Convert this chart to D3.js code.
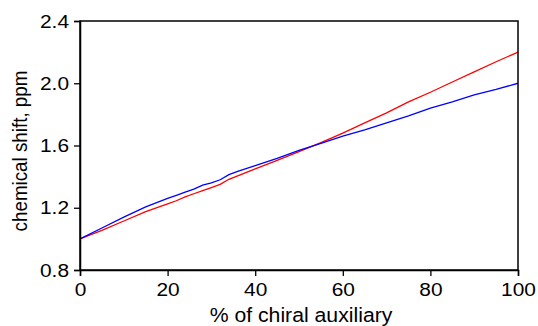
<!DOCTYPE html>
<html><head><meta charset="utf-8">
<script src="https://cdn.jsdelivr.net/npm/d3@7"></script>
<style>body{margin:0;background:#fff}svg{display:block}text{font-family:"Liberation Sans",Arial,sans-serif;fill:#000}</style>
</head><body><svg id="c" width="538" height="326"></svg>
<script>
const xValues = [0,5,10,15,20,22,24,26,28,30,32,34,36,40,45,50,55,60,65,70,75,80,85,90,95,100];
const blueValues = [1.0,1.07,1.14,1.205,1.26,1.28,1.30,1.32,1.345,1.36,1.38,1.413,1.433,1.47,1.517,1.568,1.614,1.66,1.70,1.745,1.79,1.84,1.88,1.925,1.96,2.0];
const redValues = [1.0,1.055,1.115,1.175,1.225,1.245,1.27,1.29,1.31,1.33,1.35,1.383,1.405,1.45,1.505,1.561,1.618,1.68,1.745,1.81,1.88,1.942,2.008,2.073,2.138,2.2];
const xTicks = [0,20,40,60,80,100];
const yTicks = [0.8,1.2,1.6,2.0,2.4];

const svg = d3.select("#c");
const L=80,R=518,T=21,B=270;
const SX=1.1;
const x = d3.scaleLinear().domain([0,100]).range([L,R]);
const y = d3.scaleLinear().domain([0.8,2.4]).range([B,T]);

const line = vals => d3.line().x((d,i)=>x(xValues[i])).y(d=>y(d))(vals);
svg.append("path").attr("d",line(redValues)).attr("fill","none").attr("stroke","#ff0000").attr("stroke-width",1.3);
svg.append("path").attr("d",line(blueValues)).attr("fill","none").attr("stroke","#0000ff").attr("stroke-width",1.3);

// frame
svg.append("rect").attr("x",L).attr("y",T).attr("width",R-L).attr("height",B-T)
  .attr("fill","none").attr("stroke","#000").attr("stroke-width",1.5);

const xa = svg.append("g").attr("transform",`translate(0,${B})`)
  .call(d3.axisBottom(x).tickValues(xTicks).tickSize(6).tickPadding(7).tickFormat(d3.format("d")));
const ya = svg.append("g").attr("transform",`translate(${L},0)`)
  .call(d3.axisLeft(y).tickValues(yTicks).tickSize(6).tickPadding(5).tickFormat(d3.format(".1f")));
[xa,ya].forEach(g=>{
  g.select(".domain").attr("stroke","#000").attr("stroke-width",1.5);
  g.selectAll(".tick line").attr("stroke","#000").attr("stroke-width",1.3);
  g.selectAll(".tick text").attr("font-size",19).attr("font-family","'Liberation Sans',Arial,sans-serif")
    .attr("fill","#000").attr("transform",`scale(${SX},1)`);
});
ya.selectAll(".tick text").attr("x",-11/SX);

svg.append("text").attr("transform",`translate(${(L+R)/2+2},321.5) scale(${SX},1)`).attr("text-anchor","middle").attr("font-size",19.3)
  .text("% of chiral auxiliary");
svg.append("text").attr("transform",`translate(27,151) rotate(-90) scale(1,${SX})`).attr("text-anchor","middle").attr("font-size",18.8)
  .text("chemical shift, ppm");
</script></body></html>
